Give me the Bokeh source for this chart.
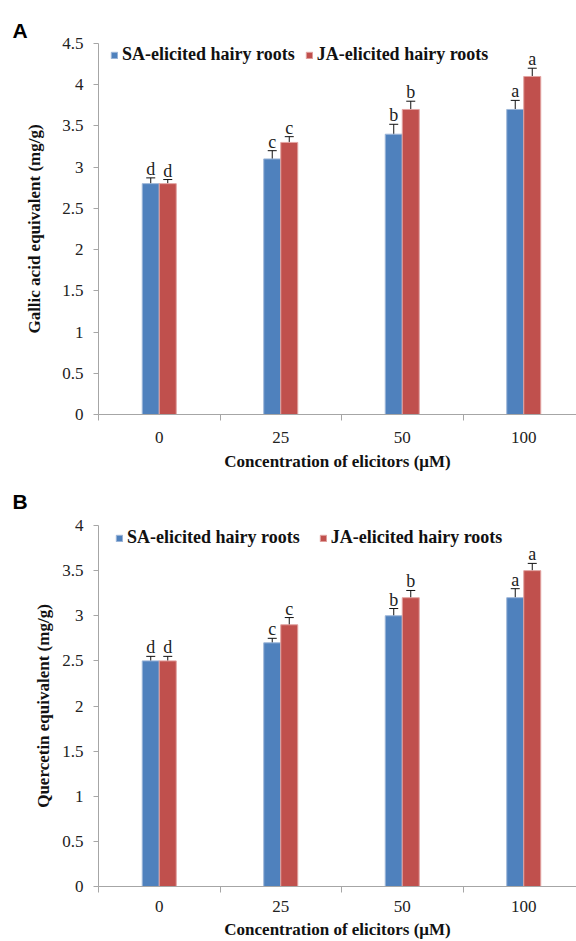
from bokeh.plotting import figure
from bokeh.models import (ColumnDataSource, Range1d, FixedTicker, Whisker, TeeHead,
                          NumeralTickFormatter, Title, Legend)
from bokeh.layouts import column
from bokeh.embed import file_html
from bokeh.resources import INLINE
from bokeh.core.properties import value

# ---------------- data ----------------
concentrations = ["0", "25", "50", "100"]
series_names = ["SA-elicited hairy roots", "JA-elicited hairy roots"]

gallic_sa = [2.8, 3.1, 3.4, 3.7]
gallic_sa_err = [0.07, 0.10, 0.12, 0.11]
gallic_ja = [2.8, 3.3, 3.7, 4.1]
gallic_ja_err = [0.05, 0.07, 0.10, 0.10]
gallic_sa_letters = ["d", "c", "b", "a"]
gallic_ja_letters = ["d", "c", "b", "a"]

querc_sa = [2.5, 2.7, 3.0, 3.2]
querc_sa_err = [0.05, 0.05, 0.08, 0.10]
querc_ja = [2.5, 2.9, 3.2, 3.5]
querc_ja_err = [0.05, 0.08, 0.08, 0.08]
querc_sa_letters = ["d", "c", "b", "a"]
querc_ja_letters = ["d", "c", "b", "a"]

gallic_ticks = [0, 0.5, 1, 1.5, 2, 2.5, 3, 3.5, 4, 4.5]
querc_ticks = [0, 0.5, 1, 1.5, 2, 2.5, 3, 3.5, 4]

BLUE = "#4F81BD"
RED = "#C0504D"
SERIF = "Liberation Serif"


def make_panel(letter, sa, sa_err, ja, ja_err, sa_let, ja_let, y_ticks, y_label,
               height, border_top, border_bottom, ylab_standoff, legend_xy, legend_spacing,
               xlab_standoff, xtitle_standoff, title_standoff):
    n = len(concentrations)
    centers = [i + 0.5 for i in range(n)]
    bw = 0.14
    p = figure(width=576, height=height, output_backend="svg", toolbar_location=None,
               x_range=Range1d(0, 478 / 121.5), y_range=Range1d(0, y_ticks[-1]),
               min_border_left=98, min_border_right=0,
               min_border_top=border_top, min_border_bottom=border_bottom)
    p.outline_line_color = None
    p.xgrid.visible = False
    p.ygrid.visible = False
    p.background_fill_color = "white"

    src_sa = ColumnDataSource(dict(x=[c - bw / 2 for c in centers], top=sa,
                                   upper=[v + e for v, e in zip(sa, sa_err)],
                                   lower=[v - e for v, e in zip(sa, sa_err)],
                                   lab=sa_let))
    src_ja = ColumnDataSource(dict(x=[c + bw / 2 for c in centers], top=ja,
                                   upper=[v + e for v, e in zip(ja, ja_err)],
                                   lower=[v - e for v, e in zip(ja, ja_err)],
                                   lab=ja_let))
    r1 = p.vbar(x="x", top="top", width=bw, source=src_sa, fill_color=BLUE,
                line_color="#9DB6D8", line_width=1)
    r2 = p.vbar(x="x", top="top", width=bw, source=src_ja, fill_color=RED,
                line_color="#E2A3A1", line_width=1)

    for src in (src_sa, src_ja):
        w = Whisker(base="x", upper="upper", lower="lower", source=src,
                    line_color="#111111", line_width=1,
                    upper_head=TeeHead(size=9, line_color="#111111", line_width=1),
                    lower_head=TeeHead(size=9, line_color="#111111", line_width=1))
        p.add_layout(w)
        p.text(x="x", y="upper", text="lab", source=src, text_align="center",
               text_baseline="bottom", y_offset=1, text_font=value(SERIF),
               text_font_size="18px", text_color="#222222")

    # axes
    xa = p.xaxis[0]
    xa.ticker = FixedTicker(ticks=centers, minor_ticks=[0, 1, 2, 3, 4])
    xa.major_label_overrides = {c: lab for c, lab in zip(centers, concentrations)}
    xa.major_tick_out = 0
    xa.major_tick_in = 0
    xa.minor_tick_out = 6
    xa.minor_tick_in = 0
    xa.minor_tick_line_color = "#A6A6A6"
    xa.axis_line_color = "#A6A6A6"
    xa.major_label_text_font = SERIF
    xa.major_label_text_font_size = "17px"
    xa.major_label_text_color = "#222222"
    xa.major_label_standoff = xlab_standoff
    xa.axis_label = "Concentration of elicitors (\u03bcM)"
    xa.axis_label_text_font = SERIF
    xa.axis_label_text_font_style = "bold"
    xa.axis_label_text_font_size = "17px"
    xa.axis_label_text_color = "#111111"
    xa.axis_label_standoff = xtitle_standoff

    ya = p.yaxis[0]
    ya.ticker = FixedTicker(ticks=y_ticks, minor_ticks=[])
    ya.formatter = NumeralTickFormatter(format="0.[0]")
    ya.major_tick_out = 5
    ya.major_tick_in = 0
    ya.major_tick_line_color = "#A6A6A6"
    ya.axis_line_color = "#A6A6A6"
    ya.major_label_text_font = SERIF
    ya.major_label_text_font_size = "17px"
    ya.major_label_text_color = "#222222"
    ya.major_label_standoff = 10
    ya.axis_label = y_label
    ya.axis_label_text_font = SERIF
    ya.axis_label_text_font_style = "bold"
    ya.axis_label_text_font_size = "17px"
    ya.axis_label_text_color = "#111111"
    ya.axis_label_standoff = ylab_standoff

    legend = Legend(items=[(series_names[0], [r1]), (series_names[1], [r2])],
                    orientation="horizontal", location=legend_xy,
                    glyph_width=8, glyph_height=8, label_standoff=4,
                    spacing=legend_spacing, padding=0, margin=0,
                    border_line_color=None, background_fill_alpha=0,
                    label_text_font=SERIF, label_text_font_style="bold",
                    label_text_font_size="18px", label_text_color="#111111",
                    label_height=20)
    p.add_layout(legend)

    t = Title(text=letter, align="left", offset=-86, standoff=title_standoff,
              text_font="Liberation Sans", text_font_style="bold",
              text_font_size="21px", text_color="black")
    p.add_layout(t, "above")
    return p


pa = make_panel("A", gallic_sa, gallic_sa_err, gallic_ja, gallic_ja_err,
                gallic_sa_letters, gallic_ja_letters, gallic_ticks,
                "Gallic acid equivalent (mg/g)", 473, 43, 59, 15, (12, 349), 10,
                11, 6, 4)
pb = make_panel("B", querc_sa, querc_sa_err, querc_ja, querc_ja_err,
                querc_sa_letters, querc_ja_letters, querc_ticks,
                "Quercetin equivalent (mg/g)", 468, 52, 55, 6, (17, 338), 19,
                8, 5, 26)

layout = column(pa, pb, spacing=0)
open("out.html", "w").write(file_html(layout, INLINE))
